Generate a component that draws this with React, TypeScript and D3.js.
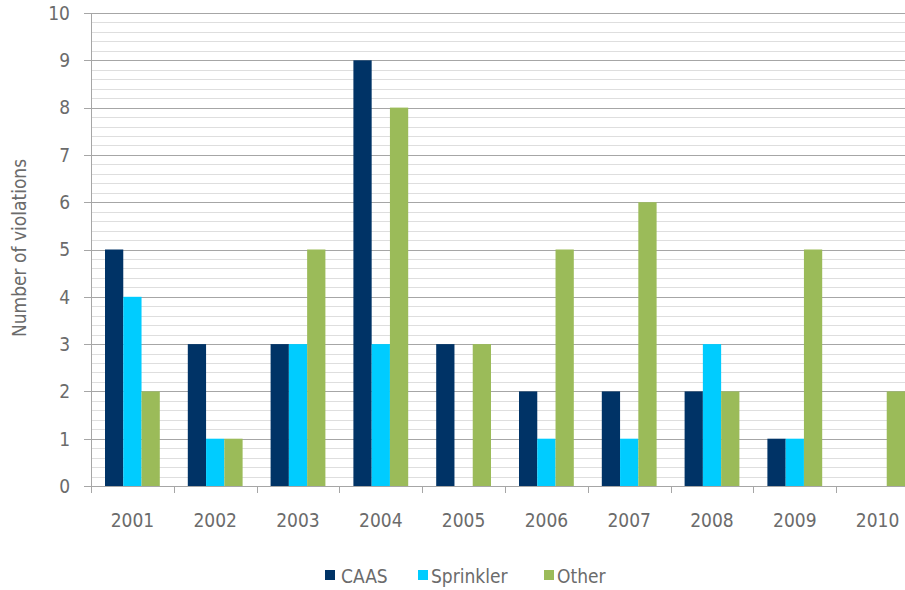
import React from "react";
import * as d3 from "d3";

const years = ["2001","2002","2003","2004","2005","2006","2007","2008","2009","2010"];
const seriesNames = ["CAAS","Sprinkler","Other"];
const caas = [5,3,3,9,3,2,2,2,1,0];
const sprinkler = [4,1,3,3,0,1,1,3,1,0];
const other = [2,1,5,8,3,5,6,2,5,2];
const colors = ["#003366","#00CCFF","#9BBB59"];
const yTicks = [0,1,2,3,4,5,6,7,8,9,10];

const W = 905, H = 590;
const FONT = "'DejaVu Sans Condensed', 'DejaVu Sans', sans-serif";

export default function App() {
  const left = 91, bandW = 82.8;
  const x = d3.scaleBand<string>().domain(years).range([left, left + bandW * years.length]).padding(0);
  const y = d3.scaleLinear().domain([0, 10]).range([486, 13]);
  const inner = d3.scaleBand<string>().domain(seriesNames).range([14, bandW - 14]).padding(0);
  const values = [caas, sprinkler, other];
  const minor = d3.range(0, 10.001, 0.2).filter(v => Math.abs(v - Math.round(v)) > 1e-6);
  const textColor = "#6b6b6b";
  const legendItems = [
    { name: "CAAS", sx: 325, tx: 341 },
    { name: "Sprinkler", sx: 418, tx: 431 },
    { name: "Other", sx: 544, tx: 557 },
  ];
  return (
    <svg width={W} height={H} style={{ position: "absolute", left: 0, top: 0, background: "#fff" }} fontFamily={FONT} fontStretch="condensed">
      {minor.map((v, i) => (
        <line key={"m" + i} x1={left} x2={W} y1={Math.round(y(v)) + 0.5} y2={Math.round(y(v)) + 0.5} stroke="#dedede" strokeWidth={1} />
      ))}
      {yTicks.filter(t => t > 0).map(t => (
        <line key={"g" + t} x1={left - 7} x2={W} y1={Math.round(y(t)) + 0.5} y2={Math.round(y(t)) + 0.5} stroke="#a6a6a6" strokeWidth={1} />
      ))}
      {years.map((yr, i) => (
        <g key={yr}>
          {values.map((vals, s) => (
            vals[i] > 0 ? (
              <rect key={s} x={x(yr)! + inner(seriesNames[s])!} y={y(vals[i])} width={inner.bandwidth()} height={y(0) - y(vals[i])} fill={colors[s]} />
            ) : null
          ))}
        </g>
      ))}
      <line x1={left + 0.5} x2={left + 0.5} y1={13} y2={486} stroke="#a6a6a6" />
      <line x1={left - 7} x2={W} y1={486.5} y2={486.5} stroke="#a6a6a6" />
      {years.map(yr => (
        <line key={"t" + yr} x1={Math.round(x(yr)!) + 0.5} x2={Math.round(x(yr)!) + 0.5} y1={486} y2={493} stroke="#a6a6a6" />
      ))}
      {yTicks.map(t => (
        <text key={"yl" + t} x={70} y={y(t)} dy="0.36em" textAnchor="end" fontSize={19} fill={textColor}>{t}</text>
      ))}
      {years.map(yr => (
        <text key={"xl" + yr} x={x(yr)! + bandW / 2} y={527} textAnchor="middle" fontSize={19} fill={textColor}>{yr}</text>
      ))}
      <text transform={`translate(26,248) rotate(-90)`} textAnchor="middle" fontSize={19} fill={textColor}>Number of violations</text>
      {legendItems.map((it, i) => (
        <g key={it.name}>
          <rect x={it.sx} y={570} width={10} height={10} fill={colors[i]} />
          <text x={it.tx} y={583} fontSize={19} fill={textColor}>{it.name}</text>
        </g>
      ))}
    </svg>
  );
}
